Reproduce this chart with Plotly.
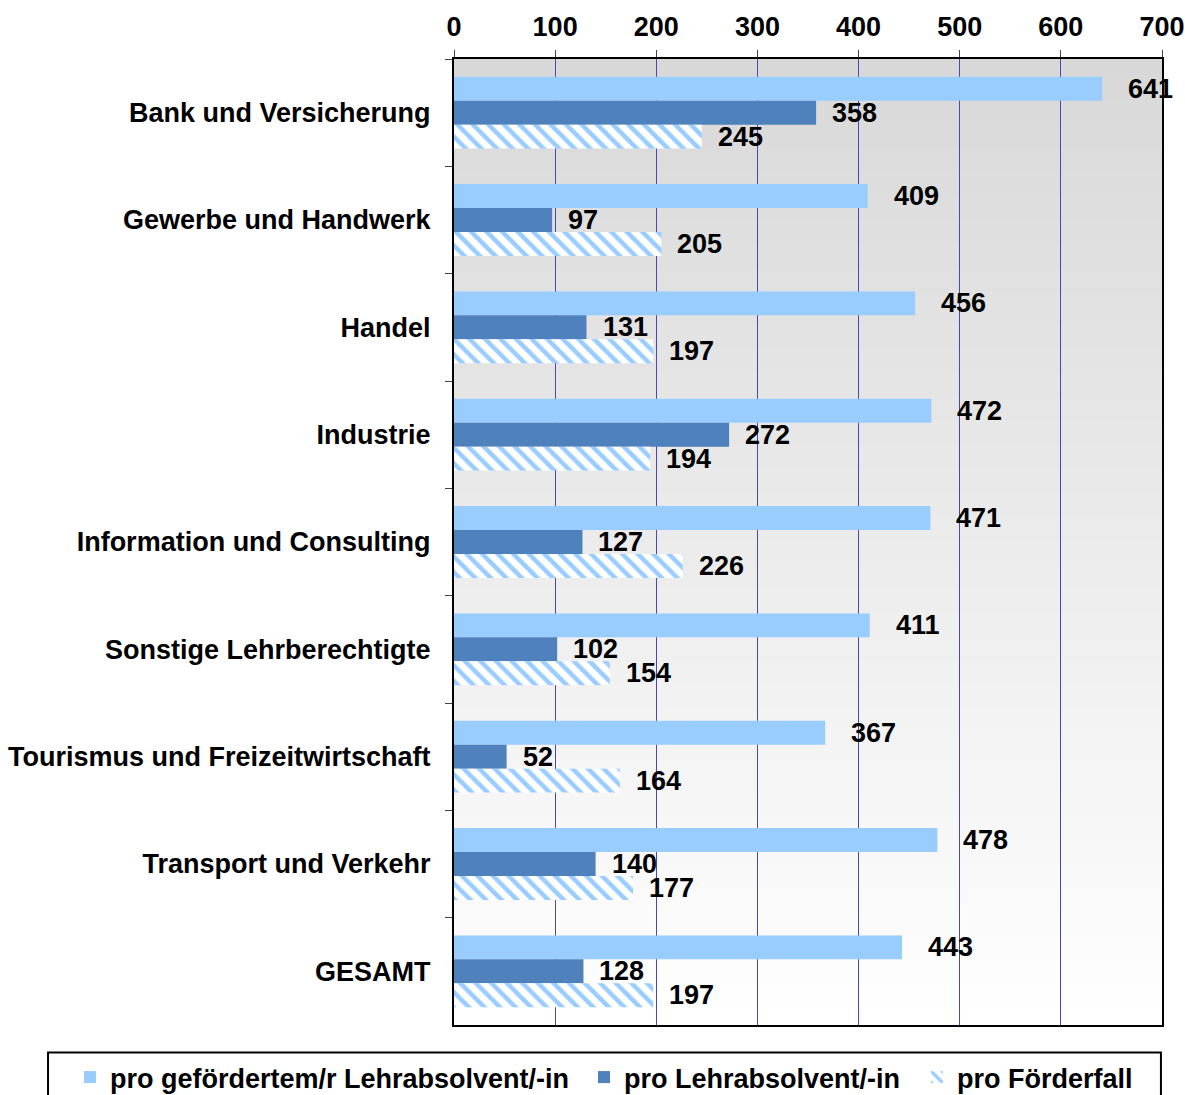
import plotly.graph_objects as go

categories = ["Bank und Versicherung", "Gewerbe und Handwerk", "Handel", "Industrie",
              "Information und Consulting", "Sonstige Lehrberechtigte",
              "Tourismus und Freizeitwirtschaft", "Transport und Verkehr", "GESAMT"]
series_names = ["pro gefördertem/r Lehrabsolvent/-in", "pro Lehrabsolvent/-in", "pro Förderfall"]
vals_gefoerdert = [641, 409, 456, 472, 471, 411, 367, 478, 443]
vals_absolvent = [358, 97, 131, 272, 127, 102, 52, 140, 128]
vals_foerderfall = [245, 205, 197, 194, 226, 154, 164, 177, 197]
x_ticks = [0, 100, 200, 300, 400, 500, 600, 700]

FONT = "Liberation Sans, Arial, sans-serif"
FS = 27
BARGAP = 0.33

fig = go.Figure()
fig.add_trace(go.Bar(y=categories, x=vals_gefoerdert, orientation="h", name=series_names[0],
                     marker=dict(color="#99ccff", line=dict(width=0)), legendwidth=469))
fig.add_trace(go.Bar(y=categories, x=vals_absolvent, orientation="h", name=series_names[1],
                     marker=dict(color="#4f81bd", line=dict(width=0)), legendwidth=288))
fig.add_trace(go.Bar(y=categories, x=vals_foerderfall, orientation="h", name=series_names[2],
                     marker=dict(color="white", line=dict(width=0),
                                 pattern=dict(shape="\\", fgcolor="#99ccff", bgcolor="white",
                                              size=11, solidity=0.4, fillmode="replace")),
                     legendwidth=190))

# value labels
bar_w = (1 - BARGAP) / 3
all_vals = [vals_gefoerdert, vals_absolvent, vals_foerderfall]
xshifts = [24, 14, 14]
for k, vals in enumerate(all_vals):
    for i, v in enumerate(vals):
        fig.add_annotation(x=v, y=i + (k - 1) * bar_w, text=str(v), showarrow=False,
                           xanchor="left", yanchor="middle", xshift=xshifts[k],
                           font=dict(family=FONT, size=FS, color="black", weight="bold"))

# gradient background
n = 120
top = (216, 216, 216)
bot = (255, 255, 255)
for j in range(n):
    t = j / (n - 1)
    c = tuple(round(top[m] + (bot[m] - top[m]) * t) for m in range(3))
    fig.add_shape(type="rect", xref="x domain", yref="y domain", x0=0, x1=1,
                  y0=1 - (j + 1) / n, y1=1 - j / n + 0.001, layer="below",
                  fillcolor="rgb(%d,%d,%d)" % c, line=dict(width=0))

# legend frame
fig.add_shape(type="rect", xref="paper", yref="paper", x0=-0.5734, x1=0.9985,
              y0=-0.0795, y1=-0.0285, layer="above",
              fillcolor="rgba(0,0,0,0)", line=dict(color="black", width=2))

fig.update_layout(
    width=1185, height=1095,
    margin=dict(l=454, r=23, t=59, b=70, autoexpand=False),
    barmode="group", bargap=BARGAP, bargroupgap=0,
    paper_bgcolor="white", plot_bgcolor="white",
    font=dict(family=FONT, size=FS, color="black", weight="bold"),
    showlegend=True,
    legend=dict(orientation="h", x=-0.5424, xanchor="left", y=-0.029, yanchor="top",
                borderwidth=0, bgcolor="rgba(0,0,0,0)",
                font=dict(family=FONT, size=FS, color="black", weight="bold"),
                traceorder="normal"),
)

fig.update_xaxes(side="top", range=[0, 700], tickvals=x_ticks, ticktext=[str(v) for v in x_ticks],
                 showgrid=True, gridcolor="#4848b0", gridwidth=1, zeroline=False,
                 showline=True, linecolor="black", linewidth=2, mirror=True,
                 ticks="outside", ticklen=7, tickcolor="#444", tickwidth=1,
                 ticklabelstandoff=3,
                 tickfont=dict(family=FONT, size=FS, color="black", weight="bold"))
fig.update_yaxes(categoryorder="array", categoryarray=categories, autorange="reversed",
                 showgrid=False, zeroline=False,
                 showline=True, linecolor="black", linewidth=2, mirror=True,
                 ticks="outside", ticklen=7, tickson="boundaries", tickcolor="#444", tickwidth=1,
                 ticklabelstandoff=16,
                 tickfont=dict(family=FONT, size=FS, color="black", weight="bold"))

fig.write_html("out.html", config={"displayModeBar": False},
               post_script="document.body.style.margin='0';document.body.style.overflow='hidden';")
